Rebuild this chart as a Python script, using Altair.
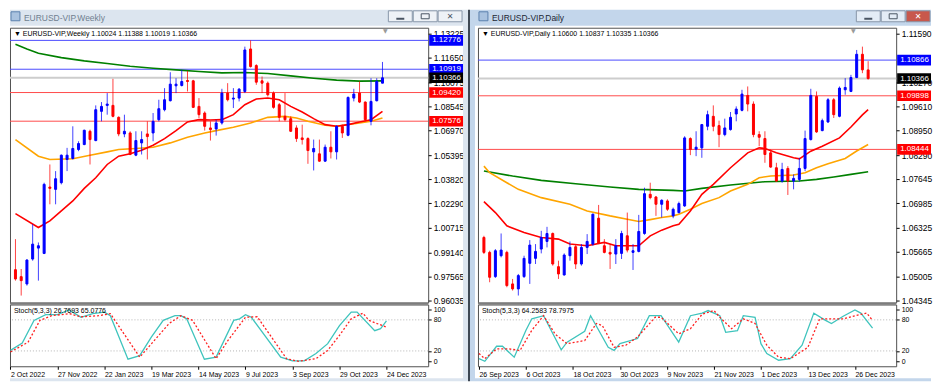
import json
import altair as alt
import pandas as pd

# ---------------- data: weekly ----------------
W_OPEN = [0.98021, 0.97573, 0.97103, 0.98705, 0.99409, 0.99067, 1.03339, 1.03189, 1.03617, 1.05112, 1.05176, 1.05752, 1.06073, 1.06927, 1.06329, 1.08208, 1.08593, 1.08593, 1.07824, 1.06756, 1.06820, 1.05389, 1.06180, 1.06756, 1.06820, 1.07674, 1.08315, 1.08892, 1.09853, 1.09874, 1.10195, 1.10173, 1.08529, 1.08102, 1.07141, 1.07076, 1.07461, 1.09383, 1.08999, 1.09063, 1.09490, 1.12223, 1.11156, 1.10173, 1.10024, 1.09383, 1.08635, 1.07888, 1.07738, 1.07141, 1.06500, 1.06457, 1.05603, 1.05475, 1.05005, 1.05902, 1.05603, 1.07247, 1.06671, 1.09063, 1.09383, 1.08806, 1.07568, 1.08892, 1.10024]
W_HIGH = [0.99986, 0.98064, 0.98705, 1.00947, 0.99772, 1.03617, 1.04791, 1.04364, 1.05432, 1.05859, 1.07247, 1.06286, 1.07034, 1.07034, 1.08593, 1.08806, 1.09383, 1.10301, 1.07888, 1.07995, 1.06927, 1.06927, 1.06927, 1.07568, 1.08102, 1.08956, 1.09703, 1.10728, 1.10344, 1.10878, 1.10814, 1.10237, 1.09063, 1.08208, 1.07568, 1.07674, 1.09661, 1.10024, 1.09703, 1.09703, 1.12373, 1.12776, 1.11241, 1.10451, 1.10130, 1.09490, 1.08742, 1.09383, 1.07888, 1.07311, 1.07354, 1.06543, 1.06393, 1.06393, 1.06073, 1.06927, 1.07311, 1.07354, 1.09169, 1.09661, 1.10130, 1.08849, 1.10344, 1.10344, 1.11388]
W_LOW = [0.97316, 0.96355, 0.96996, 0.98598, 0.97316, 0.99025, 1.02228, 1.02228, 1.03510, 1.04364, 1.05112, 1.05645, 1.06030, 1.04791, 1.06286, 1.07568, 1.07995, 1.07824, 1.06607, 1.06543, 1.05389, 1.05325, 1.05432, 1.05112, 1.06286, 1.07568, 1.08208, 1.08849, 1.09383, 1.09810, 1.09490, 1.08422, 1.07781, 1.06970, 1.06329, 1.06649, 1.07354, 1.08849, 1.08422, 1.08849, 1.09383, 1.11027, 1.09917, 1.09383, 1.09169, 1.08379, 1.07568, 1.07568, 1.06884, 1.06244, 1.06073, 1.04834, 1.04407, 1.04962, 1.04962, 1.05176, 1.05112, 1.06500, 1.06607, 1.08849, 1.08742, 1.07568, 1.07311, 1.08849, 1.10019]
W_CLOSE = [0.97423, 0.97316, 0.98640, 0.99665, 0.99559, 1.03510, 1.03254, 1.03873, 1.05389, 1.05389, 1.05817, 1.06137, 1.06991, 1.06393, 1.08315, 1.08529, 1.08678, 1.07888, 1.06756, 1.06927, 1.05432, 1.06329, 1.06393, 1.06585, 1.07568, 1.08379, 1.08956, 1.09960, 1.09960, 1.10130, 1.10130, 1.08465, 1.07995, 1.07247, 1.07034, 1.07461, 1.09383, 1.08956, 1.09063, 1.09639, 1.12159, 1.11092, 1.10088, 1.10024, 1.09276, 1.08465, 1.07824, 1.07674, 1.06927, 1.06457, 1.06393, 1.05688, 1.05817, 1.05005, 1.05902, 1.05603, 1.07247, 1.06820, 1.09105, 1.09319, 1.08806, 1.07674, 1.08849, 1.10130, 1.10366]

W_GREEN_I = [0, 2, 4, 8, 12, 16, 20, 24, 28, 32, 36, 40, 44, 48, 52, 56, 60, 64]
W_GREEN_V = [1.12522, 1.12223, 1.11946, 1.11668, 1.11455, 1.11284, 1.11113, 1.10985, 1.10878, 1.10771, 1.10686, 1.10707, 1.10643, 1.10494, 1.10344, 1.10216, 1.10152, 1.10173]
W_RED_I = [0, 4, 6, 8, 10, 12, 14, 16, 18, 20, 22, 24, 26, 28, 30, 32, 34, 36, 38, 40, 42, 44, 46, 48, 50, 52, 54, 56, 58, 60, 62, 64]
W_RED_V = [1.01630, 1.00733, 1.01160, 1.01801, 1.02442, 1.03254, 1.03937, 1.04791, 1.05325, 1.05475, 1.05710, 1.06030, 1.06457, 1.06970, 1.07525, 1.07674, 1.07653, 1.07674, 1.07995, 1.08635, 1.08999, 1.09063, 1.08956, 1.08529, 1.08166, 1.07738, 1.07354, 1.07247, 1.07354, 1.07525, 1.07674, 1.08208]
W_ORANGE_I = [0, 4, 6, 10, 13, 16, 18, 21, 24, 27, 30, 33, 35, 38, 41, 44, 47, 49, 51, 54, 56, 60, 62, 64]
W_ORANGE_V = [1.06393, 1.05325, 1.05112, 1.05154, 1.05389, 1.05603, 1.05752, 1.05817, 1.05902, 1.06180, 1.06543, 1.06820, 1.06970, 1.07183, 1.07461, 1.07824, 1.07888, 1.07781, 1.07568, 1.07311, 1.07247, 1.07461, 1.07568, 1.07781]

W_K_I = [0, 2, 4, 6, 8, 10, 11, 12, 14, 16, 17, 20, 22, 24, 26, 28, 29, 30, 33, 35, 38, 39, 40, 41, 46, 48, 50, 52, 54, 56, 58, 59, 62, 63, 64]
W_K_V = [21, 35, 79, 90, 90, 99, 92, 85, 92, 95, 88, 4, 11, 47, 79, 88, 88, 82, 4, 8, 79, 82, 90, 85, 8, 1, 1, 15, 34, 69, 95, 95, 59, 63, 78]
W_D_I = [0, 3, 5, 7, 10, 12, 15, 17, 22, 23, 27, 29, 31, 35, 37, 40, 42, 47, 49, 52, 54, 56, 58, 60, 61, 64]
W_D_V = [18, 37, 79, 88, 92, 86, 88, 92, 8, 21, 73, 88, 79, 5, 40, 85, 86, 5, 0, 5, 21, 50, 82, 93, 79, 66]

W_LEVELS = [1.12776, 1.10919, 1.10366, 1.09420, 1.07576]
W_KINDS = ["blue", "blue", "last", "red", "red"]
W_TICKS = [1.13225, 1.11650, 1.10075, 1.08545, 1.06970, 1.05395, 1.03820, 1.02290, 1.00715, 0.99140, 0.97565, 0.96035]
W_DATES = ["2 Oct 2022", "27 Nov 2022", "22 Jan 2023", "19 Mar 2023", "14 May 2023", "9 Jul 2023", "3 Sep 2023", "29 Oct 2023", "24 Dec 2023"]

# ---------------- data: daily ----------------
D_OPEN = [1.06056, 1.05651, 1.04994, 1.05561, 1.05651, 1.04796, 1.04661, 1.04994, 1.05354, 1.05489, 1.05741, 1.05948, 1.06164, 1.05264, 1.05039, 1.05561, 1.05804, 1.05336, 1.05786, 1.05876, 1.06578, 1.05831, 1.05651, 1.05606, 1.05624, 1.06101, 1.05651, 1.05678, 1.06164, 1.07226, 1.07154, 1.06956, 1.07046, 1.06641, 1.06731, 1.06911, 1.08738, 1.08450, 1.08486, 1.09071, 1.09341, 1.09089, 1.08846, 1.08981, 1.09404, 1.09503, 1.09908, 1.09674, 1.08846, 1.08738, 1.08351, 1.07946, 1.07586, 1.07928, 1.07586, 1.07631, 1.07928, 1.08711, 1.09881, 1.08954, 1.09188, 1.09791, 1.09341, 1.10061, 1.10016, 1.10394, 1.11024, 1.10600]
D_HIGH = [1.06101, 1.05696, 1.05741, 1.06164, 1.05696, 1.04931, 1.05066, 1.05561, 1.05984, 1.05876, 1.06236, 1.06344, 1.06191, 1.05426, 1.05624, 1.05948, 1.05876, 1.05876, 1.06146, 1.06704, 1.06938, 1.06011, 1.05876, 1.06011, 1.06236, 1.06731, 1.05876, 1.06668, 1.07406, 1.07541, 1.07181, 1.07091, 1.07091, 1.06866, 1.07028, 1.08801, 1.08774, 1.08936, 1.09134, 1.09494, 1.09638, 1.09224, 1.09278, 1.09458, 1.09611, 1.10061, 1.10151, 1.09746, 1.08936, 1.08936, 1.08441, 1.08081, 1.08081, 1.07991, 1.07766, 1.08216, 1.08954, 1.10088, 1.10016, 1.09278, 1.09836, 1.09836, 1.10151, 1.10376, 1.10466, 1.11141, 1.11231, 1.10837]
D_LOW = [1.05606, 1.04841, 1.04958, 1.05516, 1.04706, 1.04616, 1.04481, 1.04958, 1.04796, 1.05336, 1.05624, 1.05786, 1.05291, 1.04931, 1.05021, 1.05426, 1.05201, 1.05291, 1.05606, 1.05831, 1.05876, 1.05624, 1.05201, 1.05336, 1.05471, 1.05651, 1.05174, 1.05651, 1.06128, 1.07091, 1.06641, 1.06596, 1.06776, 1.06578, 1.06704, 1.06884, 1.08288, 1.08261, 1.08216, 1.08963, 1.08936, 1.08504, 1.08801, 1.08954, 1.09206, 1.09476, 1.09476, 1.08774, 1.08531, 1.08081, 1.07946, 1.07568, 1.07541, 1.07208, 1.07361, 1.07568, 1.07856, 1.08684, 1.08891, 1.08936, 1.09161, 1.09296, 1.09314, 1.09926, 1.09998, 1.10376, 1.10511, 1.10335]
D_CLOSE = [1.05651, 1.04976, 1.05696, 1.05714, 1.04751, 1.04661, 1.05021, 1.05489, 1.05849, 1.05678, 1.06056, 1.06164, 1.05336, 1.05066, 1.05579, 1.05786, 1.05336, 1.05786, 1.05948, 1.06686, 1.05894, 1.05651, 1.05606, 1.05831, 1.06164, 1.05714, 1.05696, 1.06218, 1.07244, 1.07136, 1.06956, 1.07064, 1.06821, 1.06821, 1.06974, 1.08756, 1.08441, 1.08504, 1.09116, 1.09386, 1.09071, 1.08846, 1.09026, 1.09314, 1.09539, 1.09944, 1.09674, 1.08846, 1.08774, 1.08306, 1.07964, 1.07586, 1.07901, 1.07586, 1.07658, 1.07928, 1.08738, 1.09908, 1.08918, 1.09224, 1.09791, 1.09386, 1.10106, 1.10124, 1.10394, 1.11024, 1.10601, 1.10366]

D_GREEN_I = [0, 5, 10, 16, 22, 27, 33, 35, 38, 43, 49, 55, 58, 61, 64, 67]
D_GREEN_V = [1.07856, 1.07721, 1.07604, 1.07514, 1.07424, 1.07361, 1.07334, 1.07316, 1.07388, 1.07478, 1.07568, 1.07586, 1.07631, 1.07694, 1.07766, 1.07838]
D_ORANGE_I = [0, 1, 4, 6, 10, 15, 18, 22, 25, 27, 29, 31, 33, 34, 36, 38, 41, 43, 46, 48, 50, 54, 56, 58, 60, 63, 65, 67]
D_ORANGE_V = [1.07991, 1.07811, 1.07541, 1.07361, 1.07136, 1.06956, 1.06776, 1.06641, 1.06551, 1.06488, 1.06540, 1.06596, 1.06641, 1.06686, 1.06821, 1.06974, 1.07136, 1.07316, 1.07496, 1.07676, 1.07721, 1.07748, 1.07811, 1.07946, 1.08054, 1.08200, 1.08400, 1.08576]
D_RED_I = [0, 2, 4, 7, 10, 13, 15, 18, 21, 23, 27, 29, 31, 33, 34, 36, 38, 40, 43, 46, 48, 49, 51, 54, 55, 57, 59, 62, 64, 66, 67]
D_RED_V = [1.07028, 1.06731, 1.06371, 1.06191, 1.06056, 1.06011, 1.05876, 1.05831, 1.05921, 1.05831, 1.05831, 1.06101, 1.06254, 1.06371, 1.06416, 1.06776, 1.07226, 1.07496, 1.07946, 1.08351, 1.08486, 1.08468, 1.08351, 1.08216, 1.08189, 1.08396, 1.08531, 1.08756, 1.09050, 1.09380, 1.09521]

D_K_I = [0, 1, 3, 4, 6, 8, 9, 11, 14, 15, 18, 19, 22, 23, 24, 27, 29, 31, 34, 36, 38, 39, 41, 42, 44, 45, 47, 48, 49, 51, 53, 55, 57, 59, 60, 62, 64, 65, 67]
D_K_V = [5, 0, 29, 29, 8, 60, 82, 88, 22, 37, 58, 88, 27, 21, 34, 44, 88, 88, 37, 88, 93, 98, 88, 56, 59, 88, 85, 34, 15, 2, 5, 31, 93, 79, 73, 87, 99, 93, 64]
D_D_I = [0, 1, 3, 5, 7, 9, 11, 13, 15, 18, 20, 21, 23, 25, 27, 30, 31, 34, 36, 38, 40, 41, 43, 45, 47, 49, 51, 53, 56, 58, 60, 62, 64, 66, 67]
D_D_V = [15, 5, 24, 24, 21, 60, 88, 52, 34, 40, 73, 69, 27, 31, 47, 85, 85, 53, 63, 91, 98, 85, 63, 82, 73, 31, 8, 5, 27, 82, 82, 82, 88, 93, 79]

D_LEVELS = [1.10866, 1.10366, 1.09898, 1.08444]
D_KINDS = ["blue", "last", "red", "red"]
# 1.10930 sits fully under the 1.10866 tag in the reference, so it is not drawn
D_TICKS = [1.11590, 1.10270, 1.09610, 1.08950, 1.08290, 1.07645, 1.06985, 1.06325, 1.05665, 1.05005, 1.04345]
D_DATES = ["26 Sep 2023", "6 Oct 2023", "18 Oct 2023", "30 Oct 2023", "9 Nov 2023", "21 Nov 2023", "1 Dec 2023", "13 Dec 2023", "26 Dec 2023"]

W_HEADER = "▼  EURUSD-VIP,Weekly  1.10024 1.11388 1.10019 1.10366"
D_HEADER = "▼  EURUSD-VIP,Daily  1.10600 1.10837 1.10335 1.10366"
W_STOCH = "Stoch(5,3,3) 26.7693 65.0776"
D_STOCH = "Stoch(5,3,3) 64.2583 78.7975"

# ---------------- styling / layout ----------------
PW, PH, SH = 420, 276, 62
FONT = "Liberation Sans"
UP, DOWN = "#0000ff", "#ff0000"
LINE_COL = {"blue": "#4b4bff", "last": "#cdcdcd", "red": "#ff4b4b"}
LINE_W = {"blue": 1, "last": 2, "red": 1}
TAG_COL = {"blue": "#0000ff", "last": "#000000", "red": "#ff0000"}
LBAR, RBAR = "#dce5ef", "#c3d6eb"
TAG_SHAPE = "M-1,-0.3125L1,-0.3125L1,0.3125L-1,0.3125Z"


def one():
    return pd.DataFrame({"k": [0]})


def rect(x, x2, y, y2, fill, stroke=None):
    kw = {"fill": fill}
    if stroke:
        kw.update(stroke=stroke, strokeWidth=1)
    else:
        kw.update(strokeWidth=0)
    return alt.Chart(one()).mark_rect(**kw).encode(
        x=alt.value(x), x2=alt.value(x2), y=alt.value(y), y2=alt.value(y2))


def txt(x, y, text, size, color, font=FONT, align="left"):
    return alt.Chart(one()).mark_text(
        text=text, fontSize=size, color=color, font=font, align=align, baseline="middle"
    ).encode(x=alt.value(x), y=alt.value(y))


def window_chrome(title, active, left):
    bar = RBAR if active else LBAR
    tcol = "#1c2733" if active else "#707f90"
    x0 = 0 if left else -3
    layers = [rect(x0, 455, -18, -2, bar)]
    if left:
        layers += [rect(455, 460, -18, 355, LBAR), rect(460, 462, -18, 355, "#3d4753"),
                   rect(462, 467, -18, 355, RBAR)]
    layers += [rect(x0, 455, 352, 355, bar)]
    layers += [rect(1, 10, -16, -7, "#a9c2df", "#5b80ad"), txt(14, -10, title, 8.5, tcol)]
    bfill = "#eef2f7" if not active else "#e3ecf6"
    layers += [rect(380, 404, -17, -6, bfill, "#8796a8"), rect(405, 429, -17, -6, bfill, "#8796a8"),
               rect(430, 454, -17, -6, "#c8584c" if active else bfill, "#8796a8")]
    gcol = "#4a5563"
    layers += [rect(388, 396, -10, -8, gcol), rect(413, 421, -14, -9, "none", gcol),
               txt(442, -11, "✕", 8, "#ffffff" if active else gcol, font="DejaVu Sans", align="center")]
    layers += [rect(0, PW, PH, PH + 2, "#7d7d7d")]
    return layers


def main_panel(o, h, l, c, mas, levels, kinds, ticks, ydom, xdom, header, title, active, left):
    n = len(o)
    df = pd.DataFrame({"i": list(range(n)), "open": o, "high": h, "low": l, "close": c})
    df["col"] = [UP if cc >= oo else DOWN for oo, cc in zip(o, c)]
    xs = alt.Scale(domain=xdom, nice=False, zero=False)
    ys = alt.Scale(domain=ydom, nice=False, zero=False)
    yax = alt.Axis(orient="right", values=ticks, format=".5f", title=None, grid=False, domain=False,
                   ticks=True, tickSize=3, tickColor="#000000", labelFont=FONT, labelFontSize=8.5,
                   labelColor="#000000", labelPadding=2, labelOverlap=False, labelBound=False,
                   labelFlush=False)

    def X(f):
        return alt.X(f, type="quantitative", scale=xs, axis=None)

    def Y(f):
        return alt.Y(f, type="quantitative", scale=ys, axis=yax)

    layers = window_chrome(title, active, left)

    lv = pd.DataFrame({"price": levels, "kind": kinds})
    lv["tag"] = [TAG_COL[k] for k in kinds]
    lv["lab"] = [f"{p:.5f}" for p in levels]
    for k in ["last", "blue", "red"]:
        sub = lv[lv.kind == k]
        layers.append(alt.Chart(sub).mark_rule(strokeWidth=LINE_W[k], color=LINE_COL[k]).encode(y=Y("price")))

    for (mi, mv, col) in mas:
        mdf = pd.DataFrame({"i": mi, "v": mv})
        layers.append(alt.Chart(mdf).mark_line(color=col, strokeWidth=1.6, clip=True).encode(x=X("i"), y=Y("v")))

    layers.append(alt.Chart(df).mark_rule(strokeWidth=1, opacity=0.75, clip=True).encode(
        x=X("i"), y=Y("low"), y2=alt.Y2("high"), color=alt.Color("col:N", scale=None)))
    layers.append(alt.Chart(df).mark_bar(size=2, strokeWidth=1, clip=True).encode(
        x=X("i"), y=Y("open"), y2=alt.Y2("close"),
        color=alt.Color("col:N", scale=None), stroke=alt.Stroke("col:N", scale=None)))

    layers.append(txt(4, 6, header, 7, "#000000"))
    layers.append(txt(377, 3, "▼", 6, "#9a9a9a", font="DejaVu Sans", align="center"))

    layers.append(alt.Chart(lv).mark_point(shape=TAG_SHAPE, size=1156, filled=True, opacity=1, strokeWidth=0).encode(
        x=alt.value(PW + 18), y=Y("price"), color=alt.Color("tag:N", scale=None)))
    layers.append(alt.Chart(lv).mark_text(align="left", baseline="middle", font=FONT, fontSize=8, color="#ffffff").encode(
        x=alt.value(PW + 4), y=Y("price"), text="lab:N"))

    return alt.layer(*layers).properties(width=PW, height=PH)


def stoch_panel(ki, kv, di, dv, xdom, dates, header):
    xs = alt.Scale(domain=xdom, nice=False, zero=False)
    ys = alt.Scale(domain=[-9.6, 109.6], nice=False, zero=False)
    xax = alt.Axis(values=list(range(0, 65, 8)), labelExpr=json.dumps(dates) + "[round(datum.value / 8)]",
                   orient="bottom", title=None, grid=False, domain=False, ticks=True, tickSize=3,
                   tickColor="#000000", labelAlign="left", labelBaseline="top", labelPadding=1,
                   labelFont=FONT, labelFontSize=7, labelColor="#000000", labelOverlap=False,
                   labelFlush=False, labelBound=False)
    yax = alt.Axis(orient="right", values=[0, 20, 80, 100], format="d", title=None, grid=False,
                   domain=False, ticks=True, tickSize=3, tickColor="#000000", labelFont=FONT,
                   labelFontSize=7, labelColor="#000000", labelPadding=2, labelOverlap=False,
                   labelBound=False, labelFlush=False)
    X = lambda f: alt.X(f, type="quantitative", scale=xs, axis=xax)
    Y = lambda f: alt.Y(f, type="quantitative", scale=ys, axis=yax)
    lv = pd.DataFrame({"lvl": [20, 80]})
    kdf = pd.DataFrame({"i": ki, "v": kv})
    ddf = pd.DataFrame({"i": di, "v": dv})
    layers = [
        alt.Chart(lv).mark_rule(color="#b4b4b4", strokeDash=[1, 2], strokeWidth=1).encode(y=Y("lvl")),
        alt.Chart(kdf).mark_line(color="#3fc4bd", strokeWidth=1.3, clip=True).encode(x=X("i"), y=Y("v")),
        alt.Chart(ddf).mark_line(color="#ff2020", strokeWidth=1.3, strokeDash=[2, 2], clip=True).encode(x=X("i"), y=Y("v")),
        txt(4, 7, header, 7, "#000000"),
    ]
    return alt.layer(*layers).properties(width=PW, height=SH)


W_XDOM = [-0.5 / 5.9, -0.5 / 5.9 + PW / 5.9]
D_XDOM = [-1.0 / 5.9, -1.0 / 5.9 + PW / 5.9]
W_YDOM = [0.96035 - 2 * 0.0006407, 1.13225 + 5.7 * 0.0006407]
D_YDOM = [1.04345 - 2 * 0.00027, 1.11590 + 5.7 * 0.00027]

mainW = main_panel(W_OPEN, W_HIGH, W_LOW, W_CLOSE,
                   [(W_GREEN_I, W_GREEN_V, "#008000"), (W_ORANGE_I, W_ORANGE_V, "#ffa500"), (W_RED_I, W_RED_V, "#ff0000")],
                   W_LEVELS, W_KINDS, W_TICKS, W_YDOM, W_XDOM, W_HEADER, "EURUSD-VIP,Weekly", False, True)
mainD = main_panel(D_OPEN, D_HIGH, D_LOW, D_CLOSE,
                   [(D_GREEN_I, D_GREEN_V, "#008000"), (D_ORANGE_I, D_ORANGE_V, "#ffa500"), (D_RED_I, D_RED_V, "#ff0000")],
                   D_LEVELS, D_KINDS, D_TICKS, D_YDOM, D_XDOM, D_HEADER, "EURUSD-VIP,Daily", True, False)
stochW = stoch_panel(W_K_I, W_K_V, W_D_I, W_D_V, W_XDOM, W_DATES, W_STOCH)
stochD = stoch_panel(D_K_I, D_K_V, D_D_I, D_D_V, D_XDOM, D_DATES, D_STOCH)

chart = alt.concat(mainW, mainD, stochW, stochD, columns=2,
                   spacing=alt.RowColnumber(row=2, column=50), bounds="flush").properties(
    padding={"left": 0, "top": 0, "right": 0, "bottom": 0}, background="white"
).configure_view(stroke="#505050", strokeWidth=1, fill="white")

chart.save("out.html", embed_options={"renderer": "svg", "actions": False})
